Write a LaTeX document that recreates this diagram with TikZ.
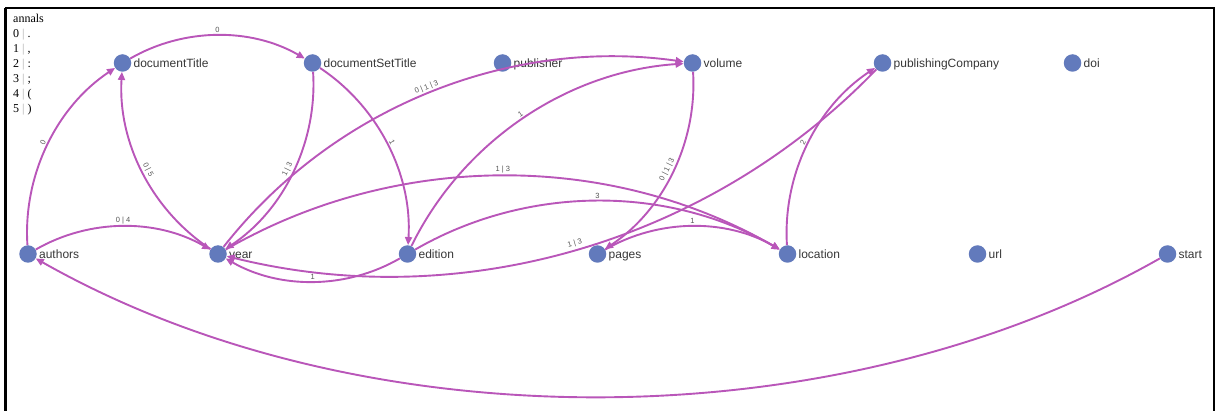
\documentclass[tikz,border=0pt]{standalone}
\usepackage{fontspec}
\setmainfont{Liberation Sans}
\newfontfamily\legendfont{Liberation Serif}
\usetikzlibrary{arrows.meta}
\definecolor{edgecol}{RGB}{185,86,185}
\definecolor{dotcol}{RGB}{98,122,188}
\definecolor{txtcol}{RGB}{55,55,55}
\definecolor{barcol}{RGB}{170,170,170}
\begin{document}
\begin{tikzpicture}[x=1pt,y=1pt,
  dot/.style={circle,fill=dotcol,minimum size=17.5pt,inner sep=0pt},
  nm/.style={label={[font=\fontsize{12}{14}\selectfont,text=txtcol,inner sep=0pt,text height=8.7pt,text depth=0pt,label distance=2pt]right:#1}},
  link/.style={draw=edgecol,line width=1.9pt,-{Triangle[length=8pt,width=7pt]}},
  arc/.style={link,bend left=30,looseness=0.91},
  el/.style={font=\fontsize{7.5}{8}\selectfont,text=txtcol!85,sloped,above,inner sep=1.5pt,midway}
]
\useasboundingbox (0,0) rectangle (1221,410);
% frame
\draw[line width=1.6pt] (6,-5) rectangle (1214,402);
\draw[line width=2.6pt] (5.6,-5) -- (5.6,402);

% legend of the separators
\node[anchor=north west,inner sep=0pt,align=left,font=\legendfont\fontsize{12}{15.1}\selectfont] (legend) at (13,396.5)
 {annals\\
  0 {\color{barcol}|} .\\
  1 {\color{barcol}|} ,\\
  2 {\color{barcol}|} :\\
  3 {\color{barcol}|} ;\\
  4 {\color{barcol}|} (\\
  5 {\color{barcol}|} )};

% top row
\node[dot,nm=documentTitle]     (dT)  at (122.5,347) {};
\node[dot,nm=documentSetTitle]  (dST) at (312.5,347) {};
\node[dot,nm=publisher]         (pub) at (502.5,347) {};
\node[dot,nm=volume]            (vol) at (692.5,347) {};
\node[dot,nm=publishingCompany] (pC)  at (882.5,347) {};
\node[dot,nm=doi]               (doi) at (1072.5,347) {};
% bottom row
\node[dot,nm=authors]  (au)  at (28,156) {};
\node[dot,nm=year]     (yr)  at (218,156) {};
\node[dot,nm=edition]  (ed)  at (407.5,156) {};
\node[dot,nm=pages]    (pg)  at (597.5,156) {};
\node[dot,nm=location] (loc) at (787.5,156) {};
\node[dot,nm=url]      (url) at (977.5,156) {};
\node[dot,nm=start]    (st)  at (1167.5,156) {};

% transitions
\draw[arc] (au)  to node[el]{0} (dT);
\draw[arc] (dT)  to node[el]{0} (dST);
\draw[arc] (yr)  to node[el]{0 | 5} (dT);
\draw[arc] (dST) to node[el]{1 | 3} (yr);
\draw[arc] (dST) to node[el]{1} (ed);
\draw[arc] (yr)  to node[el]{0 | 1 | 3} (vol);
\draw[arc] (ed)  to node[el]{1} (vol);
\draw[arc] (vol) to node[el]{0 | 1 | 3} (pg);
\draw[arc] (yr)  to node[el]{1 | 3} (loc);
\draw[arc] (ed)  to node[el]{3} (loc);
\draw[arc] (pg)  to node[el]{1} (loc);
\draw[arc] (pC)  to node[el]{1 | 3} (yr);
\draw[arc] (ed)  to node[el]{1} (yr);
\draw[arc] (loc) to node[el]{2} (pC);
\draw[arc] (au)  to node[el]{0 | 4} (yr);
\draw[link] (st.210) .. controls (835,-33) and (361,-33) .. (au.-30);
\end{tikzpicture}
\end{document}
